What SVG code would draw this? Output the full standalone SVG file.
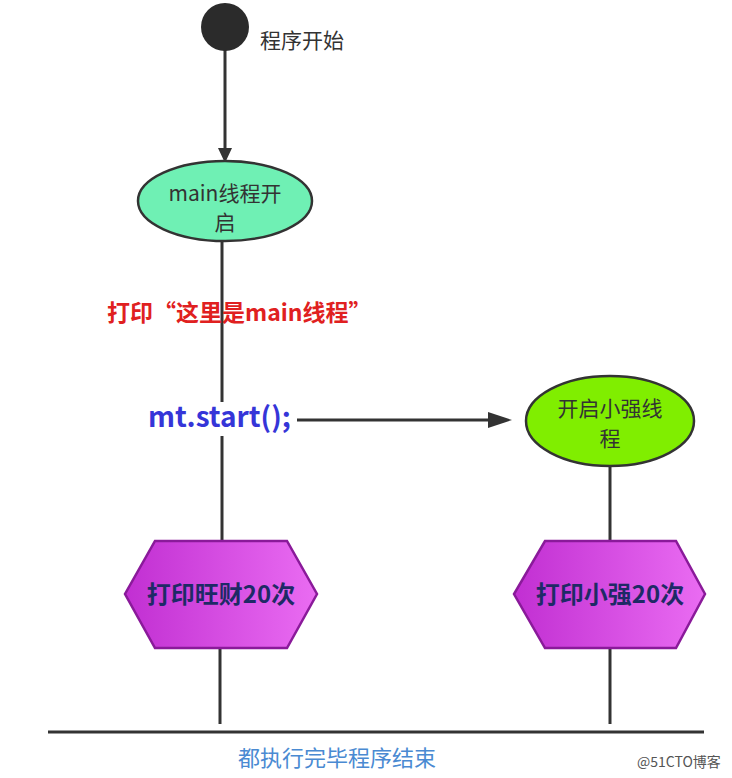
<svg xmlns="http://www.w3.org/2000/svg" width="732" height="778" viewBox="0 0 732 778">
<style>
.ln{stroke:#333;stroke-width:3;fill:none}
.t{font-family:"Noto Sans CJK SC","Noto Sans",sans-serif}
.hex{stroke:#8a1a9a;stroke-width:2.5}
.ht{font-family:"Noto Sans CJK SC",sans-serif;font-weight:bold;font-size:24px;fill:#1e2a66;text-anchor:middle}
.nt{font-family:"Noto Sans CJK SC","Noto Sans",sans-serif;font-size:21px;fill:#333;text-anchor:middle}
</style>
<defs>
<linearGradient id="g" x1="0" y1="0" x2="1" y2="0">
<stop offset="0" stop-color="#c12fd2"/>
<stop offset="1" stop-color="#ea6cf2"/>
</linearGradient>
</defs>
<rect width="732" height="778" fill="#fff"/>
<g id="connectors">
<line class="ln" x1="225" y1="50" x2="225" y2="152"/>
<path d="M218,148 L225,163 L232,148 z" fill="#333"/>
<line class="ln" x1="222" y1="242" x2="222" y2="402"/>
<line class="ln" x1="222" y1="436" x2="222" y2="541"/>
<line class="ln" x1="297" y1="420" x2="496" y2="420"/>
<path d="M488,412 L512,420 L488,428 z" fill="#333"/>
<line class="ln" x1="610" y1="466" x2="610" y2="541"/>
<line class="ln" x1="220" y1="648" x2="220" y2="724"/>
<line class="ln" x1="610" y1="648" x2="610" y2="724"/>
<line class="ln" x1="48" y1="732" x2="704" y2="732"/>
</g>
<g id="start">
<circle cx="225" cy="27" r="24" fill="#2b2b2b"/>
<text class="t" x="260" y="48" font-size="21" fill="#333">程序开始</text>
</g>
<g id="main">
<ellipse cx="225" cy="201" rx="87" ry="40" fill="#6ff0b4" stroke="#333" stroke-width="2.5"/>
<text class="nt" x="225" y="201">main线程开</text>
<text class="nt" x="225" y="230">启</text>
</g>
<g id="print-main">
<text class="t" x="107" y="321" font-size="23" font-weight="bold" fill="#e02020">打印“这里是main线程”</text>
</g>
<g id="mtstart">
<text class="t" x="148" y="427" font-size="28" font-weight="bold" fill="#3535d8">mt.start();</text>
</g>
<g id="xq">
<ellipse cx="610" cy="421" rx="84" ry="45" fill="#80ee00" stroke="#333" stroke-width="2.5"/>
<text class="nt" x="610" y="416">开启小强线</text>
<text class="nt" x="610" y="446">程</text>
</g>
<g id="wc">
<polygon class="hex" points="155,541 287,541 317,594 287,648 155,648 125,594" fill="url(#g)"/>
<text class="ht" x="221" y="603">打印旺财20次</text>
</g>
<g id="xq20">
<polygon class="hex" points="545,541 676,541 705,594 676,648 545,648 514,594" fill="url(#g)"/>
<text class="ht" x="610" y="603">打印小强20次</text>
</g>
<g id="end">
<text class="t" x="337" y="766" font-size="22" fill="#4a8ad2" text-anchor="middle">都执行完毕程序结束</text>
</g>
<text class="t" x="637" y="767" font-size="14" fill="#555">@51CTO博客</text>
</svg>
